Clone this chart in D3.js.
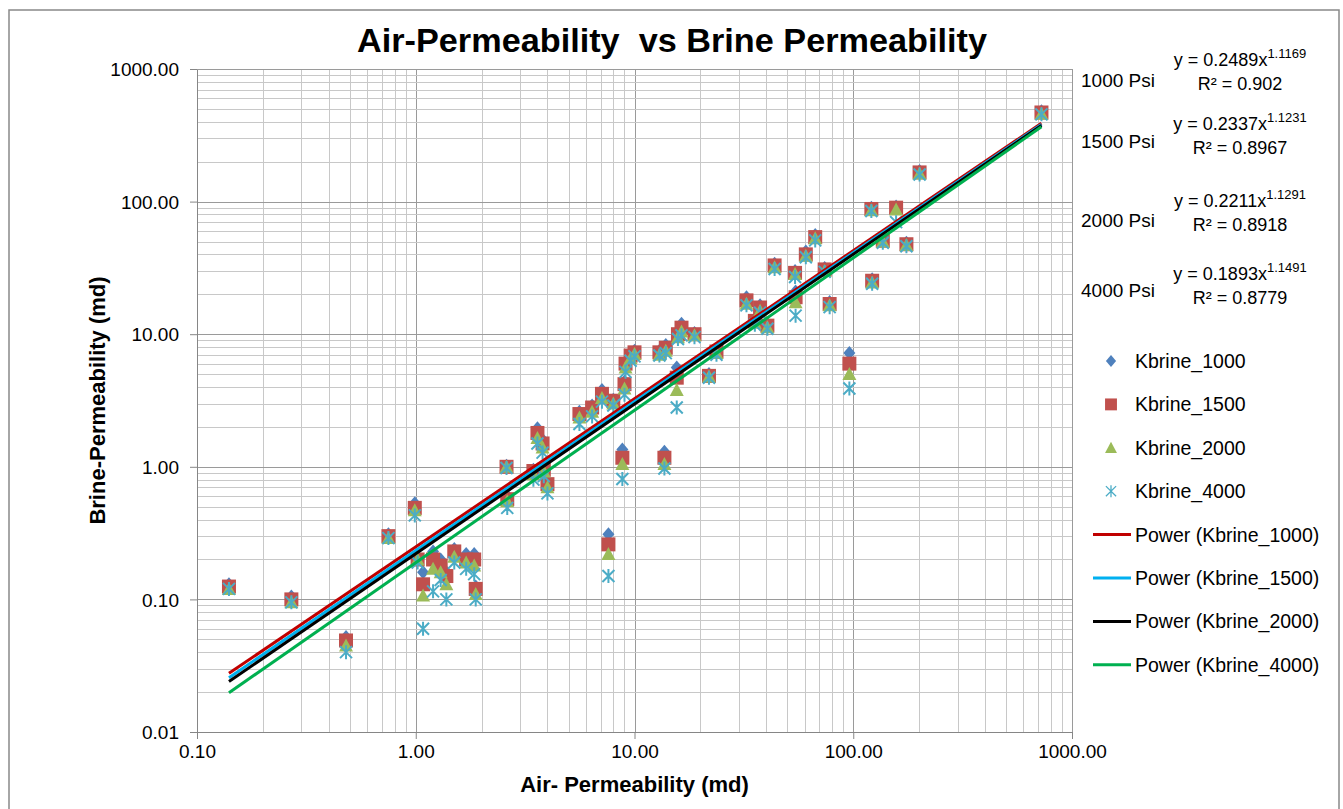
<!DOCTYPE html>
<html>
<head>
<meta charset="utf-8">
<script src="https://cdn.jsdelivr.net/npm/d3@7"></script>
<style>
  html, body { margin: 0; padding: 0; background: #fff; }
  svg { display: block; font-family: "Liberation Sans", Arial, sans-serif; }
</style>
</head>
<body>
<svg id="chart" width="1343" height="809"></svg>
<script>
// Air permeability (md) of each core plug
const airPerm = [0.14, 0.27, 0.48, 0.75, 0.99, 1.02, 1.08, 1.2, 1.3, 1.38, 1.5, 1.7, 1.85, 1.88,
  2.6, 2.62, 3.45, 3.6, 3.8, 3.85, 4.0, 5.6, 6.4, 7.1, 7.6, 8.0, 8.8, 9.0, 9.1, 9.6, 10.0,
  13.0, 13.7, 13.9, 15.6, 15.8, 16.4, 18.8, 21.9, 23.7, 32.5, 35.5, 37.5, 40.5, 43.7,
  54.2, 54.5, 60.7, 67, 74, 78, 96, 121, 122, 136.5, 157, 175, 201, 725];

// Brine permeability (md) at each confining pressure
const kbrine1000 = [0.13, 0.105, 0.052, 0.31, 0.53, 0.21, 0.16, 0.23, 0.2, 0.16, 0.24, 0.22, 0.22, 0.125,
  1.02, 0.6, 0.95, 1.95, 1.6, 1.0, 0.78, 2.6, 2.9, 3.8, 0.31, 3.2, 1.35, 4.4, 6.2, 7.2, 7.5,
  7.5, 1.3, 8.3, 5.6, 10.5, 12, 10.2, 5.0, 7.6, 19, 12.8, 16.5, 12, 34,
  30, 21, 42, 56, 31.5, 17.5, 7.2, 90, 26, 52, 92, 49, 170, 480];
const kbrine1500 = [0.125, 0.1, 0.049, 0.3, 0.49, 0.2, 0.13, 0.2, 0.18, 0.15, 0.23, 0.2, 0.2, 0.12,
  1.0, 0.57, 0.93, 1.8, 1.5, 0.95, 0.74, 2.5, 2.8, 3.55, 0.26, 3.15, 1.17, 4.2, 6.0, 6.9, 7.3,
  7.3, 1.17, 7.9, 4.7, 10, 11.2, 10, 4.85, 7.4, 18, 12.6, 15.9, 11.6, 33,
  29, 19, 40, 54, 30.8, 16.9, 6.0, 88, 25.3, 50.7, 90, 47.7, 166, 470];
const kbrine2000 = [0.12, 0.095, 0.045, 0.29, 0.47, 0.2, 0.107, 0.17, 0.16, 0.13, 0.21, 0.19, 0.18, 0.11,
  1.0, 0.55, 0.88, 1.65, 1.4, 0.92, 0.7, 2.35, 2.6, 3.3, 0.22, 3.0, 1.05, 3.9, 5.6, 6.6, 7.1,
  7.0, 1.05, 7.5, 3.8, 9.5, 10.5, 9.8, 4.8, 7.2, 17, 12.2, 15, 11.3, 32,
  28.5, 17.4, 39, 53, 30, 16.5, 5.0, 86, 24.5, 50, 87, 47, 163, 460];
const kbrine4000 = [0.12, 0.095, 0.04, 0.29, 0.43, 0.19, 0.06, 0.115, 0.14, 0.1, 0.19, 0.17, 0.155, 0.1,
  0.98, 0.49, 0.8, 1.5, 1.28, 0.85, 0.63, 2.1, 2.4, 3.1, 0.15, 2.9, 0.81, 3.5, 5.2, 6.3, 6.8,
  6.9, 0.97, 7.2, 2.8, 9.2, 9.8, 9.5, 4.7, 7.0, 16.5, 11.8, 14.5, 11, 31,
  27, 13.8, 38, 51, 29.5, 16, 3.9, 85, 24, 49, 70, 46, 160, 455];

// Power trendline coefficients y = a * x^b, as printed on the chart
const trendA = [0.2489, 0.2337, 0.2211, 0.1893];
const trendB = [1.1169, 1.1231, 1.1291, 1.1491];
const trendR2 = ['0.902', '0.8967', '0.8918', '0.8779'];
const pressureLabels = ['1000 Psi', '1500 Psi', '2000 Psi', '4000 Psi'];
const seriesNames = ['Kbrine_1000', 'Kbrine_1500', 'Kbrine_2000', 'Kbrine_4000'];

// Axis tick values
const xTicks = [0.1, 1, 10, 100, 1000];
const yTicks = [0.01, 0.1, 1, 10, 100, 1000];

const markerColors = ['#4F81BD', '#C0504D', '#9BBB59', '#4BACC6'];
const lineColors = ['#C00000', '#00B0F0', '#000000', '#00B050'];

const svg = d3.select('#chart');

// Plot area
const plot = { left: 197, right: 1072, top: 69, bottom: 732 };

const x = d3.scaleLog().domain([0.1, 1000]).range([plot.left, plot.right]);
const y = d3.scaleLog().domain([0.01, 1000]).range([plot.bottom, plot.top]);

// Outer chart border
svg.append('rect')
  .attr('x', 9).attr('y', 10)
  .attr('width', 1330).attr('height', 810)
  .attr('fill', 'none')
  .attr('stroke', '#898989')
  .attr('stroke-width', 1.5);

// Gridlines: major at decades, minor at 2..9 of each decade
function decadeValues(lo, hi) {
  const vals = [];
  for (let e = Math.log10(lo); e < Math.log10(hi); e++) {
    for (let k = 1; k <= 9; k++) vals.push({ v: k * Math.pow(10, e), major: k === 1 });
  }
  vals.push({ v: hi, major: true });
  return vals;
}

const grid = svg.append('g').attr('class', 'grid');

grid.selectAll('line.gx')
  .data(decadeValues(0.1, 1000))
  .enter().append('line')
  .attr('class', 'gx')
  .attr('x1', d => Math.round(x(d.v)) + 0.5)
  .attr('x2', d => Math.round(x(d.v)) + 0.5)
  .attr('y1', plot.top)
  .attr('y2', plot.bottom)
  .attr('stroke', d => d.major ? '#9a9a9a' : '#c8c8c8')
  .attr('stroke-width', 1);

grid.selectAll('line.gy')
  .data(decadeValues(0.01, 1000))
  .enter().append('line')
  .attr('class', 'gy')
  .attr('x1', plot.left)
  .attr('x2', plot.right)
  .attr('y1', d => Math.round(y(d.v)) + 0.5)
  .attr('y2', d => Math.round(y(d.v)) + 0.5)
  .attr('stroke', d => d.major ? '#9a9a9a' : '#c8c8c8')
  .attr('stroke-width', 1);

// Axes
const fmt = d3.format('.2f');

const xAxis = svg.append('g')
  .attr('transform', `translate(0, ${plot.bottom})`)
  .call(d3.axisBottom(x).tickValues(xTicks).tickFormat(fmt).tickSizeOuter(0).tickSize(7).tickPadding(6));

const yAxis = svg.append('g')
  .attr('transform', `translate(${plot.left}, 0)`)
  .call(d3.axisLeft(y).tickValues(yTicks).tickFormat(fmt).tickSizeOuter(0).tickSize(7).tickPadding(11));

[xAxis, yAxis].forEach(ax => {
  ax.select('.domain').attr('stroke', '#868686');
  ax.selectAll('.tick line').attr('stroke', '#868686');
  ax.selectAll('.tick text')
    .attr('fill', '#000')
    .style('font-size', '19px')
    .style('font-family', '"Liberation Sans", Arial, sans-serif');
});
yAxis.selectAll('.tick text').attr('dy', '0.35em');

// Right-hand and top plot border
svg.append('line')
  .attr('x1', plot.right + 0.5).attr('x2', plot.right + 0.5)
  .attr('y1', plot.top).attr('y2', plot.bottom)
  .attr('stroke', '#9a9a9a');
svg.append('line')
  .attr('x1', plot.left).attr('x2', plot.right)
  .attr('y1', plot.top + 0.5).attr('y2', plot.top + 0.5)
  .attr('stroke', '#9a9a9a');

// Marker shapes, drawn at the origin
const markerPath = [
  'M0,-7L6,0L0,7L-6,0Z',                  // diamond
  'M-7,-7H7V7H-7Z',                       // square
  'M0,-7L7,6H-7Z',                        // triangle
  'M0,-7V7M-6,-6L6,6M-6,6L6,-6'           // star / asterisk
];

const seriesData = [kbrine1000, kbrine1500, kbrine2000, kbrine4000];

seriesData.forEach((vals, i) => {
  const pts = airPerm.map((a, j) => ({ x: a, y: vals[j] }));
  const g = svg.append('g').attr('class', 'series-' + i);
  const sel = g.selectAll('path')
    .data(pts)
    .enter().append('path')
    .attr('d', markerPath[i])
    .attr('transform', d => `translate(${x(d.x)}, ${y(d.y)})`);
  if (i === 3) {
    sel.attr('fill', 'none').attr('stroke', markerColors[i]).attr('stroke-width', 2);
  } else {
    sel.attr('fill', markerColors[i]);
  }
});

// Power trendlines across the data range (straight lines on log-log axes)
const xExtent = d3.extent(airPerm);
const line = d3.line().x(d => x(d[0])).y(d => y(d[1]));

trendA.forEach((a, i) => {
  const b = trendB[i];
  const pts = xExtent.map(v => [v, a * Math.pow(v, b)]);
  svg.append('path')
    .attr('d', line(pts))
    .attr('fill', 'none')
    .attr('stroke', lineColors[i])
    .attr('stroke-width', 3);
});

// Title
svg.append('text')
  .attr('x', 672).attr('y', 52)
  .attr('text-anchor', 'middle')
  .style('font-size', '34px')
  .style('font-weight', 'bold')
  .style('white-space', 'pre')
  .attr('textLength', 630)
  .attr('lengthAdjust', 'spacingAndGlyphs')
  .text('Air-Permeability  vs Brine Permeability');

// Axis titles
svg.append('text')
  .attr('x', (plot.left + plot.right) / 2).attr('y', 792)
  .attr('text-anchor', 'middle')
  .style('font-size', '22px')
  .style('font-weight', 'bold')
  .text('Air- Permeability (md)');

svg.append('text')
  .attr('transform', `translate(105, ${(plot.top + plot.bottom) / 2}) rotate(-90)`)
  .attr('text-anchor', 'middle')
  .style('font-size', '22px')
  .style('font-weight', 'bold')
  .text('Brine-Permeability (md)');

// Trendline equations and pressure labels on the right
const eqBase = [66, 130, 207, 280];
const eqGroup = svg.append('g').style('font-size', '18px');

trendA.forEach((a, i) => {
  const eq = eqGroup.append('text')
    .attr('x', 1240).attr('y', eqBase[i])
    .attr('text-anchor', 'middle');
  eq.append('tspan').text(`y = ${a}x`);
  eq.append('tspan').attr('dy', -8).style('font-size', '13px').text(trendB[i]);

  eqGroup.append('text')
    .attr('x', 1240).attr('y', eqBase[i] + 24)
    .attr('text-anchor', 'middle')
    .text(`R\u00B2 = ${trendR2[i]}`);
});

const psiBase = [87, 148, 227, 297];
svg.selectAll('text.psi')
  .data(pressureLabels)
  .enter().append('text')
  .attr('class', 'psi')
  .attr('x', 1081)
  .attr('y', (d, i) => psiBase[i])
  .style('font-size', '19px')
  .text(d => d);

// Legend
const legendTop = 361;
const legendStep = 43.4;
const legend = svg.append('g').style('font-size', '19.5px');

seriesNames.forEach((name, i) => {
  const cy = legendTop + i * legendStep;
  const m = legend.append('path')
    .attr('d', markerPath[i])
    .attr('transform', `translate(1111, ${cy}) scale(0.85)`);
  if (i === 3) m.attr('fill', 'none').attr('stroke', markerColors[i]).attr('stroke-width', 1.5);
  else m.attr('fill', markerColors[i]);
  legend.append('text').attr('x', 1135).attr('y', cy + 7).text(name);
});

seriesNames.forEach((name, i) => {
  const cy = legendTop + (i + 4) * legendStep;
  legend.append('line')
    .attr('x1', 1093).attr('x2', 1131)
    .attr('y1', cy).attr('y2', cy)
    .attr('stroke', lineColors[i])
    .attr('stroke-width', 3);
  legend.append('text').attr('x', 1135).attr('y', cy + 7).text(`Power (${name})`);
});
</script>
</body>
</html>
